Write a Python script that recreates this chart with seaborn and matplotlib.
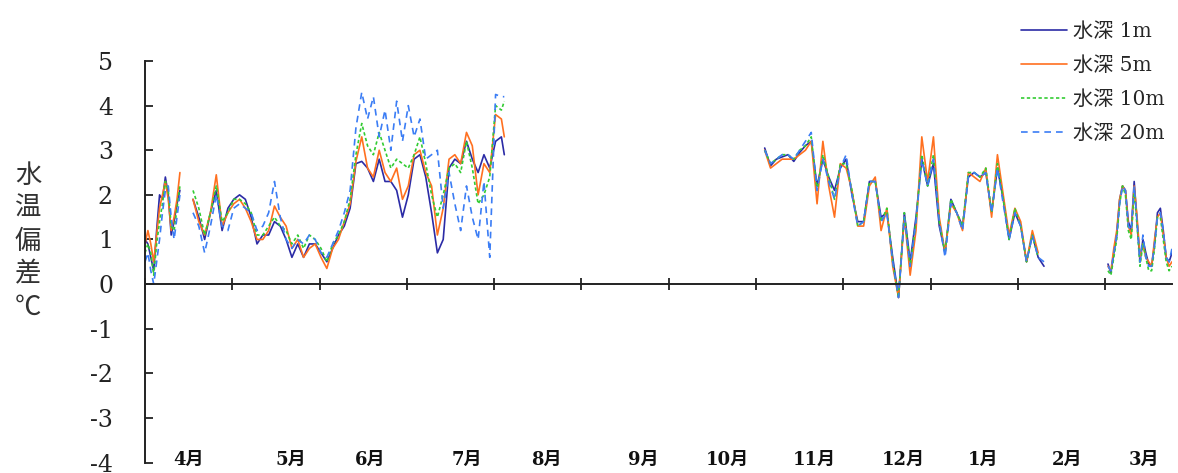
import numpy as np
import pandas as pd
import seaborn as sns
import matplotlib.pyplot as plt
from matplotlib.lines import Line2D

# day index counted from 1 April, four observation spells (gaps = no data)
days_a = np.arange(0, 13)
days_b = np.append(np.arange(16.5, 123, 2), 123.5)
days_c = np.arange(213, 310, 2)
days_d = np.arange(331, 354)

depths = ['水深 1m', '水深 5m', '水深 10m', '水深 20m']

# water temperature anomaly (degC) per depth, one list per spell
m1_a = [1.0, 0.9, 0.6, 0.3, 1.2, 2.0, 1.9, 2.4, 2.0, 1.1, 1.4, 1.8, 2.1]
m5_a = [0.9, 1.2, 0.9, 0.5, 1.1, 1.7, 2.0, 2.3, 1.9, 1.2, 1.5, 1.9, 2.5]
m10_a = [0.7, 0.9, 0.7, 0.2, 0.9, 1.4, 1.8, 2.3, 2.1, 1.3, 1.2, 1.7, 2.2]
m20_a = [0.5, 0.7, 0.3, 0.0, 0.5, 1.0, 1.6, 2.1, 2.2, 1.5, 1.0, 1.5, 2.0]

m1_b = [1.9, 1.5, 1.0, 1.6, 2.1, 1.2, 1.7, 1.9, 2.0, 1.9, 1.5, 0.9, 1.1, 1.1, 1.4,
        1.3, 1.0, 0.6, 0.9, 0.6, 0.9, 0.9, 0.7, 0.5, 0.8, 1.1, 1.3, 1.7, 2.7, 2.75,
        2.6, 2.3, 2.8, 2.3, 2.3, 2.1, 1.5, 2.0, 2.8, 2.9, 2.4, 1.6, 0.7, 1.0, 2.6,
        2.8, 2.7, 3.2, 2.8, 2.5, 2.9, 2.6, 3.2, 3.3, 2.9]
m5_b = [1.9, 1.4, 1.1, 1.6, 2.45, 1.3, 1.6, 1.8, 1.9, 1.7, 1.4, 1.0, 1.0, 1.2, 1.75,
        1.5, 1.3, 0.8, 1.0, 0.6, 0.8, 0.9, 0.6, 0.35, 0.8, 1.0, 1.4, 1.8, 2.75, 3.3,
        2.6, 2.4, 3.0, 2.5, 2.3, 2.6, 1.9, 2.2, 2.9, 3.0, 2.5, 2.2, 1.1, 1.7, 2.8,
        2.9, 2.7, 3.4, 3.1, 2.0, 2.7, 2.5, 3.8, 3.7, 3.3]
m10_b = [2.1, 1.7, 1.1, 1.6, 2.2, 1.4, 1.6, 1.9, 1.9, 1.8, 1.6, 1.1, 1.1, 1.3, 1.5,
         1.3, 1.2, 0.9, 1.1, 0.8, 1.1, 1.0, 0.8, 0.5, 0.9, 1.1, 1.4, 1.9, 2.9, 3.6,
         3.1, 2.9, 3.4, 3.0, 2.6, 2.8, 2.7, 2.6, 2.9, 3.3, 2.7, 2.0, 1.5, 2.0, 2.6,
         2.7, 2.5, 3.2, 2.6, 1.8, 2.0, 2.4, 4.0, 3.9, 4.1]
m20_b = [1.6, 1.3, 0.7, 1.3, 2.0, 1.3, 1.2, 1.7, 1.8, 1.7, 1.6, 1.2, 1.3, 1.6, 2.3,
         1.5, 1.0, 0.8, 1.0, 0.9, 1.1, 1.0, 0.7, 0.6, 0.9, 1.2, 1.6, 2.1, 3.5, 4.3,
         3.7, 4.2, 3.3, 3.9, 3.0, 4.1, 3.2, 4.0, 3.3, 3.7, 2.8, 2.9, 3.0, 1.7, 2.5,
         1.8, 1.2, 2.2, 1.5, 1.0, 2.3, 0.6, 4.25, 4.2, 4.2]

m1_c = [3.05, 2.65, 2.8, 2.85, 2.9, 2.75, 2.95, 3.1, 3.2, 2.2, 2.8, 2.4, 2.1, 2.6, 2.8,
        2.0, 1.4, 1.4, 2.3, 2.3, 1.5, 1.6, 0.6, -0.3, 1.6, 0.5, 1.5, 2.8, 2.2, 2.7,
        1.3, 0.7, 1.9, 1.6, 1.3, 2.4, 2.5, 2.4, 2.5, 1.6, 2.6, 1.9, 1.0, 1.6, 1.3,
        0.5, 1.1, 0.6, 0.4]
m5_c = [3.0, 2.6, 2.7, 2.8, 2.8, 2.8, 2.9, 3.0, 3.2, 1.8, 3.2, 2.2, 1.5, 2.7, 2.6,
        2.1, 1.3, 1.3, 2.2, 2.4, 1.2, 1.7, 0.4, -0.3, 1.5, 0.2, 1.2, 3.3, 2.3, 3.3,
        1.5, 0.7, 1.8, 1.6, 1.2, 2.5, 2.4, 2.3, 2.6, 1.5, 2.9, 2.0, 1.1, 1.7, 1.4,
        0.5, 1.2, 0.7, np.nan]
m10_c = [3.0, 2.7, 2.8, 2.9, 2.9, 2.8, 3.0, 3.1, 3.3, 2.1, 2.9, 2.4, 1.9, 2.7, 2.7,
         2.1, 1.3, 1.4, 2.3, 2.3, 1.4, 1.7, 0.5, -0.3, 1.6, 0.4, 1.4, 2.9, 2.2, 2.9,
         1.4, 0.7, 1.9, 1.6, 1.3, 2.5, 2.5, 2.4, 2.6, 1.6, 2.7, 1.9, 1.0, 1.7, 1.3,
         0.5, 1.1, 0.6, np.nan]
m20_c = [3.0, 2.7, 2.8, 2.9, 2.9, 2.8, 3.0, 3.2, 3.4, 2.1, 2.8, 2.3, 1.9, 2.6, 2.9,
         2.0, 1.3, 1.4, 2.3, 2.3, 1.4, 1.6, 0.5, -0.3, 1.5, 0.4, 1.4, 2.8, 2.2, 2.8,
         1.4, 0.6, 1.8, 1.6, 1.2, 2.4, 2.5, 2.4, 2.5, 1.6, 2.6, 1.8, 1.0, 1.6, 1.3,
         0.5, 1.1, 0.6, 0.5]

m1_d = [0.45, 0.25, 0.7, 1.1, 1.9, 2.2, 2.1, 1.4, 1.2, 2.3, 1.4, 0.5, 1.0, 0.7, 0.45,
        0.4, 0.9, 1.6, 1.7, 1.2, 0.6, 0.5, 0.7]
m5_d = [0.4, 0.3, 0.8, 1.2, 1.9, 2.2, 2.1, 1.3, 1.1, 2.2, 1.5, 0.6, 0.9, 0.6, 0.5,
        0.4, 1.0, 1.5, 1.6, 1.1, 0.6, 0.4, 0.5]
m10_d = [0.3, 0.2, 0.6, 1.0, 1.8, 2.2, 2.0, 1.2, 1.0, 2.1, 1.3, 0.4, 0.9, 0.6, 0.3,
         0.3, 0.8, 1.5, 1.5, 1.0, 0.5, 0.3, 0.4]
m20_d = [0.4, 0.3, 0.7, 1.1, 1.8, 2.2, 2.1, 1.3, 1.2, 2.2, 1.4, 0.5, 1.1, 0.6, 0.4,
         0.4, 0.9, 1.5, 1.6, 1.2, 0.6, 0.5, 0.8]

month_labels = ['4月', '5月', '6月', '7月', '8月', '9月', '10月', '11月', '12月', '1月', '2月', '3月']
month_pos = [15.1, 50.2, 77.3, 110.5, 138.0, 171.1, 200.0, 230.2, 260.5, 288.0, 316.8, 343.3]

colors = ['#2b2ba6', '#ff7020', '#33cc33', '#3b7df5']
dash_map = {depths[0]: '', depths[1]: '', depths[2]: (2, 1.5), depths[3]: (4, 3)}

# build long dataframe, one unit per spell so gaps stay open
day_lists = [days_a, days_b, days_c, days_d]
series = {
    depths[0]: [m1_a, m1_b, m1_c, m1_d],
    depths[1]: [m5_a, m5_b, m5_c, m5_d],
    depths[2]: [m10_a, m10_b, m10_c, m10_d],
    depths[3]: [m20_a, m20_b, m20_c, m20_d],
}
frames = []
for depth, segs in series.items():
    for k, (d, v) in enumerate(zip(day_lists, segs)):
        frames.append(pd.DataFrame({'day': d, 'temp': v, 'depth': depth, 'seg': k}))
df = pd.concat(frames, ignore_index=True).dropna()

sns.set_style('white')
plt.rcParams['axes.unicode_minus'] = False
serif_jp = ['DejaVu Serif', 'Noto Sans CJK JP']

fig = plt.figure(figsize=(11.78, 4.73), dpi=100)
ax = fig.add_axes([145 / 1178, 1 - 462.6 / 473, (1172 - 145) / 1178, (462.6 - 61) / 473])

sns.lineplot(data=df, x='day', y='temp', hue='depth', style='depth', units='seg',
             estimator=None, hue_order=depths, style_order=depths,
             palette=colors, dashes=dash_map, linewidth=1.2, sort=False,
             legend=False, ax=ax)

ax.set_xlim(0, 353)
ax.set_ylim(-4, 5)
ax.set_xlabel('')
ax.set_ylabel('')
for s in ['top', 'right']:
    ax.spines[s].set_visible(False)
ax.spines['bottom'].set_position(('data', 0))
ax.spines['bottom'].set_color('#222222')
ax.spines['bottom'].set_linewidth(1.4)
ax.spines['left'].set_color('#222222')
ax.spines['left'].set_linewidth(1.4)

ax.set_xticks(np.arange(0, 331, 30))
ax.set_xticklabels([])
ax.tick_params(axis='x', bottom=True, direction='inout', length=9, width=1.3, color='#222222')
ax.set_yticks(range(-4, 6))
ax.set_yticklabels([str(v) for v in range(-4, 6)], family='DejaVu Serif', fontsize=17, color='#222222')
ax.tick_params(axis='y', left=True, direction='in', length=6, width=1.3, color='#222222', pad=23)

for lab, pos in zip(month_labels, month_pos):
    ax.text(pos, -3.93, lab, ha='center', va='center', fontsize=13, fontweight='bold',
            family=serif_jp, color='#111111', clip_on=False)

fig.text(28 / 1178, 0.490, '水\n温\n偏\n差\n℃', ha='center', va='center', fontsize=19,
         linespacing=1.28, family=['Noto Sans CJK JP'], color='#333333')

handles = [Line2D([], [], color=colors[0], lw=1.2),
           Line2D([], [], color=colors[1], lw=1.2),
           Line2D([], [], color=colors[2], lw=1.2, linestyle=(0, (2, 1.5))),
           Line2D([], [], color=colors[3], lw=1.2, linestyle=(0, (4, 3)))]
ax.legend(handles, depths, loc='upper left', bbox_to_anchor=(1003 / 1178, 1 - 4 / 473),
          bbox_transform=fig.transFigure, frameon=False,
          prop={'family': serif_jp, 'size': 14.5}, handlelength=2.3,
          labelspacing=0.75, handletextpad=0.3)

fig.savefig('out.png', dpi=100)
